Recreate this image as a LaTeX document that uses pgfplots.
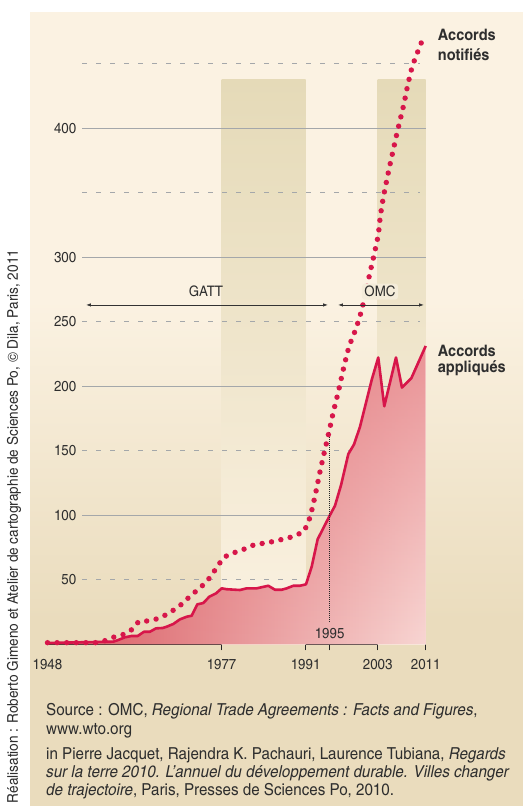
\documentclass[border=0pt]{standalone}
\usepackage{fontspec}
\setmainfont{TeX Gyre Heros Cn}[FakeStretch=1.12]
\usepackage{pgfplots}
\usepackage{pgfplotstable}
\pgfplotsset{compat=1.18}
\usetikzlibrary{arrows.meta,fadings}
\definecolor{panel}{HTML}{FBF2E2}
\definecolor{panelbot}{HTML}{EADCBD}
\definecolor{band}{HTML}{E5DAB8}
\definecolor{gridc}{HTML}{A4A7AA}
\definecolor{crim}{HTML}{D7164A}
\definecolor{fillL}{HTML}{D9585F}
\definecolor{fillM}{HTML}{E2767C}
\definecolor{fillR}{HTML}{F8D6D3}
\definecolor{fillover}{HTML}{E0686F}
\definecolor{txt}{HTML}{2E2E2E}
\definecolor{omcbox}{HTML}{F4ECDA}

\pgfplotstableread{
year value
1948 1.2
1958.96 2.2
1959.79 3.5
1960.91 5.6
1962.03 6.6
1963.03 6.6
1964.08 9.9
1965.07 9.9
1966.07 12.5
1967.19 12.8
1967.86 13.8
1968.96 15.9
1970.07 19.5
1971.19 21.5
1972.02 22.3
1972.95 31.1
1973.95 32.1
1974.95 37.0
1976.07 39.6
1977.02 43.5
1977.85 42.8
1980.07 42.2
1981.18 43.5
1982.85 43.5
1984.78 45.5
1985.90 42.4
1987.01 42.4
1987.85 43.5
1988.95 45.5
1990.06 45.5
1991.06 46.6
1992.01 60.3
1993.0 81.5
1995.06 100.3
1995.89 107.5
1996.9 123.5
1998.11 147.5
1999.06 155.0
2000.06 168.7
2002.0 204.9
2003.1 222.3
2004.1 184.5
2006.05 222.3
2007.05 199.0
2008.6 206.2
2011 231.2
}\applied

\pgfplotstableread{
year value
1948 1.4
1956 1.4
1957.53 2.9
1958.96 5.6
1960.46 7.4
1961.91 11.0
1963.24 18.0
1964.58 18.2
1966.19 19.8
1967.69 22.9
1969.12 27.0
1970.46 31.6
1971.79 37.6
1973.40 43.8
1974.57 49.0
1975.45 54.6
1976.40 61.0
1977.28 67.2
1978.62 70.6
1980.12 72.4
1981.57 75.8
1983.02 78.1
1984.57 78.4
1986.11 80.7
1987.68 81.7
1989.18 84.3
1990.61 87.1
1991.35 93.3
1991.84 100.3
1992.56 114.8
1993.51 136.5
1994.23 151.2
1994.94 165.6
1995.61 180.1
1996.39 194.6
1997.44 216.5
1998.23 231.0
1999.39 244.6
2000.34 258.9
2001.72 288.0
2002.44 302.5
2003.11 317.2
2003.44 331.9
2003.94 346.4
2004.89 368.3
2006.27 397.2
2007.39 418.9
2008.00 433.4
2008.77 448.1
2009.34 455.1
2009.90 461.8
2010.50 468.8
}\notified

\begin{document}
\begin{tikzpicture}[x=1pt,y=1pt]
\useasboundingbox (0,0) rectangle (523,806);
\fill[white] (0,0) rectangle (523,806);
% panel
\fill[panel] (30,505.8) rectangle (523,794);
\fill[top color=panel, bottom color=panelbot] (30,186) rectangle (523,506);
\fill[panelbot] (30,0) rectangle (523,186.2);

% credit
\node[rotate=90, font=\fontsize{14.8}{18}\selectfont, text=txt] at (14,279.5) {Réalisation : Roberto Gimeno et Atelier de cartographie de Sciences Po, © Dila, Paris, 2011};

% source text
\begin{scope}[every node/.style={anchor=base west, inner sep=0pt, text=txt, font=\fontsize{16.5}{18}\selectfont}]
\node at (46,90.5) {Source : OMC, \textit{Regional Trade Agreements : Facts and Figures},};
\node at (46,71) {www.wto.org};
\node at (46,46.5) {in Pierre Jacquet, Rajendra K. Pachauri, Laurence Tubiana, \textit{Regards}};
\node at (46,28.5) {\textit{sur la terre 2010. L'annuel du développement durable. Villes changer}};
\node at (46,10.5) {\textit{de trajectoire}, Paris, Presses de Sciences Po, 2010.};
\end{scope}

\begin{axis}[
  at={(47.5pt,161.5pt)}, anchor=south west,
  scale only axis, width=378.2pt, height=606.8pt,
  xmin=1948, xmax=2011, ymin=0, ymax=470,
  clip=false,
  axis x line*=bottom, axis y line*=left,
  y axis line style={draw=none},
  x axis line style={line width=1.6pt, color=black!85},
  xtick={1977,1991,1995,2003,2011},
  xticklabels={1977,1991,,2003,2011},
  extra x ticks={1948}, extra x tick labels={1948},
  extra x tick style={xtick style={draw=none}},
  tick align=outside, major tick length=6pt,
  xtick style={line width=1.5pt, color=black!85},
  ytick={50,100,150,200,250,300,400},
  yticklabels={50,100,150,200,250,300,400},
  ytick style={draw=none},
  yticklabel style={anchor=east, inner sep=0pt, xshift=35pt},
  xticklabel style={anchor=north, inner sep=0pt, yshift=-8.5pt},
  ticklabel style={font=\fontsize{14.5}{18}\selectfont, text=txt},
]
% bands
\fill[top color=band, bottom color=panel] (axis cs:1977,0) rectangle (axis cs:1991,437.3);
\fill[top color=band, bottom color=panel] (axis cs:2003,0) rectangle (axis cs:2011,437.3);
% grid
\draw[gridc, line width=1.1pt] (axis cs:1953.75,100) -- (axis cs:2011,100);
\draw[gridc, line width=1.1pt] (axis cs:1953.75,200) -- (axis cs:2011,200);
\draw[gridc, line width=1.1pt] (axis cs:1953.75,300) -- (axis cs:2011,300);
\draw[gridc, line width=1.1pt] (axis cs:1953.75,400) -- (axis cs:2011,400);
\draw[gridc, line width=1.1pt, dash pattern=on 5pt off 9pt] (axis cs:1953.75,50) -- (axis cs:2010.0,50);
\draw[gridc, line width=1.1pt, dash pattern=on 5pt off 9pt] (axis cs:1953.75,150) -- (axis cs:2010.0,150);
\draw[gridc, line width=1.1pt, dash pattern=on 5pt off 9pt] (axis cs:1953.75,250) -- (axis cs:2010.0,250);
\draw[gridc, line width=1.1pt, dash pattern=on 5pt off 9pt] (axis cs:1953.75,350) -- (axis cs:2010.0,350);
\draw[gridc, line width=1.1pt, dash pattern=on 5pt off 9pt] (axis cs:1953.75,450) -- (axis cs:2010.0,450);
% applied area (horizontal gradient + darker tint toward the top)
\addplot[draw=none, left color=fillL, middle color=fillM, right color=fillR] table[x=year,y=value] {\applied} \closedcycle;
\addplot[draw=none, fill=fillover, fill opacity=0.6, path fading=south] table[x=year,y=value] {\applied} \closedcycle;
\addplot[crim, line width=2.6pt, line join=round, mark=none] table[x=year,y=value] {\applied};
% 1995 marker
\draw[black!85, line width=0.8pt, dash pattern=on 0.8pt off 1.2pt] (axis cs:1995,17.4) -- (axis cs:1995,164.6);
\node[anchor=base, inner sep=0pt, text=txt, font=\fontsize{14.5}{18}\selectfont] at (axis cs:1995,4.8) {1995};
% notified dotted
\addplot[crim, line width=5.4pt, line cap=round, dash pattern=on 0pt off 9.6pt, mark=none] table[x=year,y=value] {\notified};
% GATT / OMC
\draw[black!80, line width=0.8pt, {Latex[length=5pt,width=3.5pt]}-{Latex[length=5pt,width=3.5pt]}] (axis cs:1954.41,263) -- (axis cs:1994.73,263);
\draw[black!80, line width=0.8pt, {Latex[length=5pt,width=3.5pt]}-{Latex[length=5pt,width=3.5pt]}] (axis cs:1996.39,263) -- (axis cs:2010.72,263);
\node[text=txt, font=\fontsize{14.5}{18}\selectfont] at (axis cs:1974.4,273.3) {GATT};
\node[text=txt, fill=omcbox, rounded corners=3pt, inner sep=2.5pt, font=\fontsize{14.5}{18}\selectfont] at (axis cs:2003.39,273.3) {OMC};
\end{axis}

% series labels
\begin{scope}[every node/.style={anchor=base west, inner sep=0pt, text=txt, font=\fontsize{15.8}{18}\selectfont\bfseries}]
\node at (437.7,765.3) {Accords};
\node at (437.7,745.5) {notifiés};
\node at (437.7,449.7) {Accords};
\node at (437.7,433) {appliqués};
\end{scope}
\end{tikzpicture}
\end{document}
